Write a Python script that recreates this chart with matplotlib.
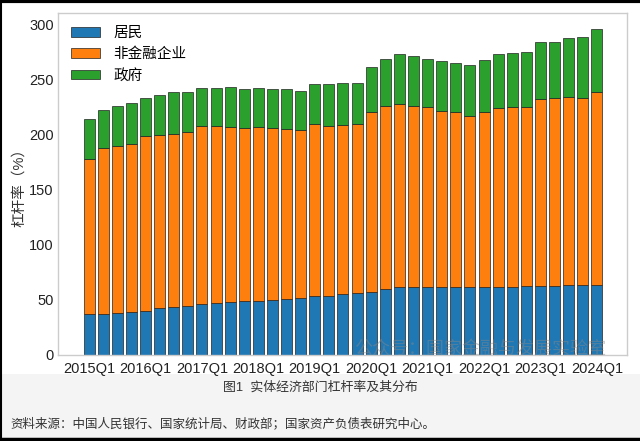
import numpy as np
import matplotlib
matplotlib.use("Agg")
import matplotlib.pyplot as plt
from matplotlib.patches import Rectangle
from matplotlib.lines import Line2D

# 字体设置：数字用 Liberation Sans，中文回退到 Noto Sans CJK SC
plt.rcParams['font.family'] = ['Liberation Sans', 'Noto Sans CJK SC']
plt.rcParams['axes.unicode_minus'] = False

# 季度（2015Q1 - 2024Q1）
quarters = [f"{y}Q{q}" for y in range(2015, 2025) for q in range(1, 5)][:37]
tick_labels = ['2015Q1', '2016Q1', '2017Q1', '2018Q1', '2019Q1',
               '2020Q1', '2021Q1', '2022Q1', '2023Q1', '2024Q1']

# 居民部门杠杆率（%）
household = [37.2, 37.4, 38.4, 39.1, 40.3, 42.2, 43.7, 44.5, 46.2, 46.8,
             48.0, 48.6, 49.3, 50.0, 51.2, 51.8, 53.2, 53.9, 55.3, 56.2,
             57.5, 59.9, 61.6, 61.4, 61.6, 61.8, 61.8, 61.8, 61.8, 61.8,
             61.9, 62.3, 62.8, 62.9, 63.4, 63.3, 63.5]
# 非金融企业部门杠杆率（%）
corporate = [140.4, 150.5, 151.3, 152.1, 158.5, 156.9, 156.9, 157.9, 161.1, 161.0,
             158.9, 156.9, 157.4, 156.0, 153.6, 151.9, 156.4, 153.7, 152.9, 152.9,
             162.7, 165.8, 165.6, 164.3, 162.9, 159.1, 158.2, 155.1, 158.4, 161.8,
             162.6, 162.2, 169.0, 169.8, 170.5, 169.4, 175.1]
# 政府部门杠杆率（%）
government = [36.3, 33.9, 36.0, 36.9, 34.6, 36.8, 37.5, 36.2, 34.7, 34.2,
              35.7, 35.9, 35.3, 34.8, 36.3, 35.9, 36.0, 38.0, 38.3, 37.4,
              40.8, 42.6, 45.3, 45.0, 43.8, 45.3, 44.9, 45.9, 47.2, 49.2,
              49.2, 49.9, 51.6, 51.3, 53.4, 55.3, 56.9]

x = np.arange(len(quarters))
household = np.array(household)
corporate = np.array(corporate)
government = np.array(government)

fig = plt.figure(figsize=(6.4, 4.41), dpi=100)
fig.patch.set_facecolor('#f4f4f4')

# 图表区域为白色背景
fig.patches.append(Rectangle((0, 1 - 374 / 441), 1, 374 / 441, transform=fig.transFigure,
                             facecolor='white', edgecolor='none', zorder=-10))

ax = fig.add_axes([58 / 640, 1 - 355 / 441, (627 - 58) / 640, (355 - 13) / 441])

bar_kw = dict(width=0.78, edgecolor='#222222', linewidth=0.5)
ax.bar(x, household, color='#1f77b4', label='居民', **bar_kw)
ax.bar(x, corporate, bottom=household, color='#ff7f0e', label='非金融企业', **bar_kw)
ax.bar(x, government, bottom=household + corporate, color='#2ca02c', label='政府', **bar_kw)

ax.set_xlim(-2.2, 38.13)
ax.set_ylim(0, 310)
ax.set_yticks(np.arange(0, 301, 50))
ax.set_xticks(x[::4])
ax.set_xticklabels(tick_labels)
ax.tick_params(axis='both', length=0, labelsize=10.5, colors='#222222')
ax.tick_params(axis='x', pad=5)
ax.tick_params(axis='y', pad=3)
for s in ax.spines.values():
    s.set_color('#cccccc')
    s.set_linewidth(1)

ax.set_ylabel('杠杆率（%）', fontsize=10.5, color='#333333', labelpad=2)

ax.legend(loc='upper left', frameon=False, fontsize=10.5, handlelength=2.0,
          handleheight=0.65, handletextpad=0.9, labelspacing=0.5)

# 水印
ax.text(0.52, 0.015, '公众号：国家金融与发展实验室', transform=ax.transAxes,
        fontsize=13, color='#888888', alpha=0.45, va='center', ha='left', zorder=10)

# 图注与资料来源
fig.text(0.5, 1 - 387 / 441, '图1  实体经济部门杠杆率及其分布', ha='center', va='center',
         fontsize=9.3, color='#333333')
fig.text(10 / 640, 1 - 424 / 441, '资料来源：中国人民银行、国家统计局、财政部；国家资产负债表研究中心。',
         ha='left', va='center', fontsize=9, color='#333333')

# 图片边框（上、左、下）
fig.lines.append(Line2D([0, 1], [0.997, 0.997], transform=fig.transFigure, color='black', lw=3))
fig.lines.append(Line2D([0.001, 0.001], [0, 1], transform=fig.transFigure, color='black', lw=1.5))
fig.lines.append(Line2D([0, 1], [0.004, 0.004], transform=fig.transFigure, color='black', lw=2.5))

fig.savefig('out.png', dpi=100, facecolor=fig.get_facecolor())
